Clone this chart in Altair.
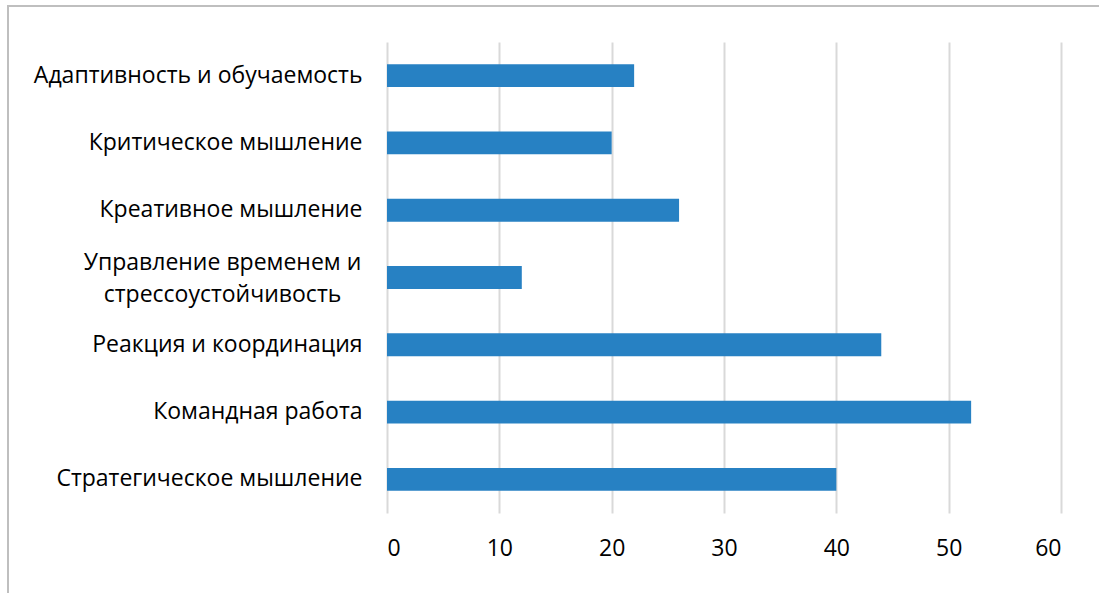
import altair as alt
import pandas as pd

categories = [
    "Адаптивность и обучаемость",
    "Критическое мышление",
    "Креативное мышление",
    "Управление временем и стрессоустойчивость",
    "Реакция и координация",
    "Командная работа",
    "Стратегическое мышление",
]
values = [22, 20, 26, 12, 44, 52, 40]
x_ticks = [0, 10, 20, 30, 40, 50, 60]

df = pd.DataFrame({"category": categories, "value": values})

WRAP = "Управление временем и стрессоустойчивость"
FONT = "Open Sans"

bars = alt.Chart(df).mark_bar(color="#2781C3").encode(
    x=alt.X(
        "value:Q",
        scale=alt.Scale(domain=[0, 60], nice=False),
        axis=alt.Axis(
            values=x_ticks,
            title=None,
            domain=False,
            ticks=False,
            grid=True,
            gridColor="#D9D9D9",
            gridWidth=2,
            labelFont=FONT,
            labelFontSize=23,
            labelColor="#000000",
            labelPadding=24,
        ),
    ),
    y=alt.Y(
        "category:N",
        sort=categories,
        scale=alt.Scale(paddingInner=0.66, paddingOuter=0.33),
        axis=alt.Axis(
            title=None,
            domain=False,
            ticks=False,
            labelFont=FONT,
            labelFontSize=23,
            labelColor="#000000",
            labelLimit=400,
            labelLineHeight=32,
            labelExpr=f"datum.label == '{WRAP}' ? ['Управление временем и', 'стрессоустойчивость'] : datum.label",
            labelAlign={"condition": {"test": f"datum.value == '{WRAP}'", "value": "center"}, "value": "right"},
            labelPadding={"condition": {"test": f"datum.value == '{WRAP}'", "value": 165}, "value": 25},
            labelOffset={"condition": {"test": f"datum.value == '{WRAP}'", "value": -15}, "value": 0},
        ),
    ),
)

frame = alt.Chart(pd.DataFrame({"a": [0]})).mark_rect(
    fill=None, stroke="#BFBFBF", strokeWidth=2
).encode(
    x=alt.value(-379), x2=alt.value(1000), y=alt.value(-36), y2=alt.value(700)
)

chart = alt.layer(frame, bars).properties(
    width=674,
    height=471,
    padding={"left": 387, "top": 42, "right": 38, "bottom": 80},
    autosize=alt.AutoSizeParams(type="none"),
    background="white",
).configure_view(stroke=None)

chart.save("out.html", embed_options={"renderer": "svg", "actions": False})
